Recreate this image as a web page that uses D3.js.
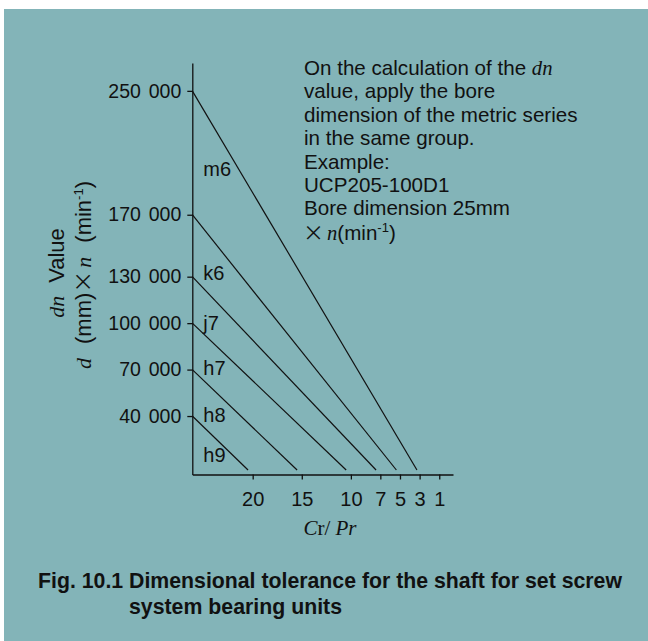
<!DOCTYPE html>
<html>
<head>
<meta charset="utf-8">
<script src="https://cdn.jsdelivr.net/npm/d3@7"></script>
<style>
  body { margin: 0; background: #fff; }
  svg text { font-family: "Liberation Sans", Arial, Helvetica, sans-serif; fill: #111; }
  .math { font-family: "Liberation Serif", "Times New Roman", serif; font-style: italic; }
  .cjk { font-family: "Noto Sans CJK JP", sans-serif; }
</style>
</head>
<body>
<div id="chart"></div>
<script>
// tolerance classes, top band first
var tolerances = ["m6", "k6", "j7", "h7", "h8", "h9"];
// dn value where each boundary line leaves the y axis
var dnLimits = [250000, 170000, 130000, 100000, 70000, 40000];
// Cr/Pr value where each boundary line meets the x axis
var crPrLimits = [3, 5, 7, 10, 15, 20];
var yTicks = [40000, 70000, 100000, 130000, 170000, 250000];
var xTicks = [20, 15, 10, 7, 5, 3, 1];
var notes = [
  ["On the calculation of the ", "dn"],
  ["value, apply the bore"],
  ["dimension of the metric series"],
  ["in the same group."],
  ["Example:"],
  ["UCP205-100D1"],
  ["Bore dimension 25mm"]
];
var caption = ["Fig. 10.1 Dimensional tolerance for the shaft for set screw", "system bearing units"];

var W = 648, H = 641;
var svg = d3.select("#chart").append("svg")
    .attr("width", W)
    .attr("height", H);

svg.append("rect")
    .attr("x", 4).attr("y", 9)
    .attr("width", W - 4).attr("height", H - 9)
    .attr("fill", "#83b4b8");

var margin = {top: 63, left: 192.3},
    width = 260.7,
    height = 411.5;

var g = svg.append("g").attr("transform", "translate(" + margin.left + "," + margin.top + ")");

var x = d3.scaleLinear().domain([26.15, -0.4]).range([0, width]);
var y = d3.scaleLinear().domain([2250, 268000]).range([height, 0]);

var fmt = d3.formatLocale({decimal: ".", thousands: " ", grouping: [3], currency: ["", ""]}).format(",");

// axes
var yAxis = g.append("g")
    .call(d3.axisLeft(y).tickValues(yTicks).tickFormat(fmt).tickSize(5).tickSizeOuter(0).tickPadding(6));
var xAxis = g.append("g")
    .attr("transform", "translate(0," + height + ")")
    .call(d3.axisBottom(x).tickValues(xTicks).tickSize(5).tickSizeOuter(0).tickPadding(12));

[yAxis, xAxis].forEach(function(a) {
  a.selectAll("path, line").attr("stroke", "#111").attr("stroke-width", 1.3);
  a.selectAll("text").attr("font-size", 20).attr("fill", "#111")
    .attr("font-family", "'Liberation Sans', Arial, sans-serif");
});
yAxis.selectAll("text").attr("font-size", 19.5).attr("word-spacing", "2.5px");

// boundary lines, stopping a little above the x axis
var gap = 4.5;
g.append("g").selectAll("line")
  .data(dnLimits)
  .enter().append("line")
    .attr("x1", 0)
    .attr("y1", function(d) { return y(d); })
    .attr("x2", function(d, i) {
      var y0 = y(d), t = (height - gap - y0) / (height - y0);
      return x(crPrLimits[i]) * t;
    })
    .attr("y2", height - gap)
    .attr("stroke", "#111")
    .attr("stroke-width", 1.2);

function lineAt(i, px) {
  if (i >= dnLimits.length) return height;
  var y0 = y(dnLimits[i]);
  return y0 + (height - y0) * px / x(crPrLimits[i]);
}

// band labels, centred between neighbouring lines
var lx = 26;
g.append("g").selectAll("text")
  .data(tolerances)
  .enter().append("text")
    .attr("x", 11)
    .attr("y", function(d, i) {
      var mid = (lineAt(i, lx) + lineAt(i + 1, lx)) / 2;
      return i === 0 ? mid - 22 : mid - 3;
    })
    .attr("dy", "0.35em")
    .attr("font-size", 20)
    .text(function(d) { return d; });

// x axis title
var xt = svg.append("text")
    .attr("x", 330).attr("y", 535)
    .attr("text-anchor", "middle")
    .attr("font-size", 21);
xt.append("tspan").attr("class", "math").text("C");
xt.append("tspan").attr("font-family", "'Liberation Serif', serif").text("r");
xt.append("tspan").attr("font-family", "'Liberation Serif', serif").text("/ ");
xt.append("tspan").attr("class", "math").text("Pr");

// y axis title, two rotated lines
var t1 = svg.append("text")
    .attr("transform", "translate(64,273) rotate(-90)")
    .attr("text-anchor", "middle")
    .attr("font-size", 22);
t1.append("tspan").attr("class", "math").text("dn");
t1.append("tspan").attr("dx", 13).text("Value");

var t2 = svg.append("text")
    .attr("transform", "translate(91,275) rotate(-90)")
    .attr("text-anchor", "middle")
    .attr("font-size", 22);
t2.append("tspan").attr("class", "math").text("d");
t2.append("tspan").attr("dx", 14).text("(mm)");
t2.append("tspan").attr("class", "cjk").attr("font-size", 22).text("\u00d7");
t2.append("tspan").attr("class", "math").attr("dx", 3).text("n");
t2.append("tspan").attr("dx", 14).text("(min");
t2.append("tspan").attr("font-size", 13).attr("dy", -8).text("-1");
t2.append("tspan").attr("dy", 8).text(")");

// note block
var nt = svg.append("g").attr("font-size", 20.6);
notes.forEach(function(parts, i) {
  var t = nt.append("text").attr("x", 304).attr("y", 75 + i * 23.4);
  t.append("tspan").text(parts[0]);
  if (parts[1]) t.append("tspan").attr("class", "math").text(parts[1]);
});
var last = nt.append("text").attr("x", 303).attr("y", 76 + notes.length * 23.4);
last.append("tspan").attr("class", "cjk").attr("font-size", 21).text("\u00d7");
last.append("tspan").attr("class", "math").attr("dx", 3).text("n");
last.append("tspan").text("(min");
last.append("tspan").attr("font-size", 13).attr("dy", -8).text("-1");
last.append("tspan").attr("dy", 8).text(")");

// caption
svg.append("text")
    .attr("x", 38).attr("y", 588)
    .attr("font-size", 22).attr("font-weight", "bold")
    .attr("fill", "#222")
    .attr("textLength", 584).attr("lengthAdjust", "spacingAndGlyphs")
    .text(caption[0]);
svg.append("text")
    .attr("x", 129).attr("y", 614)
    .attr("font-size", 22).attr("font-weight", "bold")
    .attr("fill", "#222")
    .attr("textLength", 213).attr("lengthAdjust", "spacingAndGlyphs")
    .text(caption[1]);
</script>
</body>
</html>
